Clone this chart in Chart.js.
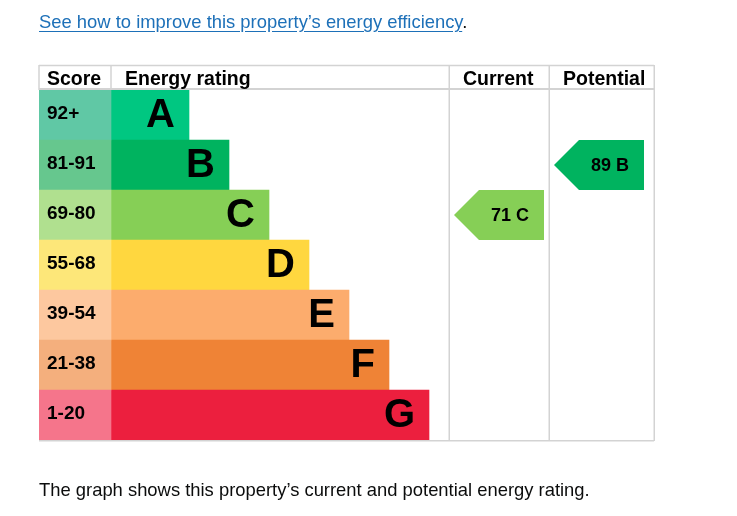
<!DOCTYPE html>
<html>
<head>
<meta charset="utf-8">
<script src="https://cdn.jsdelivr.net/npm/chart.js@4.4.1/dist/chart.umd.min.js"></script>
<style>
  html, body { margin: 0; padding: 0; background: #fff; }
  #wrap { position: relative; width: 737px; height: 516px; overflow: hidden; }
  #epc { position: absolute; left: 0; top: 0; }
  .txt { position: absolute; left: 39px; font-family: "Liberation Sans", Arial, sans-serif; font-size: 18.4px; color: #0b0c0c; white-space: nowrap; }
  #link { top: 11px; }
  #link a { color: #1d70b8; text-decoration: underline; text-underline-offset: 3px; }
  #note { top: 479px; }
</style>
</head>
<body>
<div id="wrap">
  <canvas id="epc" width="737" height="516"></canvas>
  <div class="txt" id="link"><a href="#">See how to improve this property’s energy efficiency</a>.</div>
  <div class="txt" id="note">The graph shows this property’s current and potential energy rating.</div>
</div>
<script>
// ---- data ----
const ratings    = ["A", "B", "C", "D", "E", "F", "G"];
const scoreBands = ["92+", "81-91", "69-80", "55-68", "39-54", "21-38", "1-20"];
const barLength  = [78, 118, 158, 198, 238, 278, 318];   // band bar length, chart units
const headers    = ["Score", "Energy rating", "Current", "Potential"];

const currentScore    = 71;
const currentRating   = "C";
const potentialScore  = 89;
const potentialRating = "B";

// ---- styles ----
const bandColors  = ["#00c781", "#00b35f", "#86cf56", "#ffd73f", "#fcac6d", "#ef8336", "#ec1f3e"];
const scoreColors = ["#60c8a5", "#66c78e", "#b0e08f", "#fde779", "#fdc89f", "#f4af7d", "#f5758b"];
const lineColor   = "#d3d3d3";

// column edges on the x axis (chart units)
const scoreColEnd  = 72;
const currentCol   = [410, 510];
const potentialCol = [510, 615];
const headerHeight = 25;
const tipWidth     = 25;
const arrowLen     = 90;

function arrowData(rating, col) {
  return ratings.map(r => r === rating ? [col[0] + 5, col[0] + 5 + arrowLen] : null);
}

/** Draw table frame, header, labels and arrows */
const epcPlugin = {
  id: "epc",
  afterDatasetsDraw(chart) {
    const { ctx, chartArea: a, scales: { x } } = chart;
    const top = a.top - headerHeight;

    ctx.save();
    // frame
    ctx.strokeStyle = lineColor;
    ctx.lineWidth = 1.5;
    const vline = (v, y0) => {
      const px = Math.round(x.getPixelForValue(v)) + 0.25;
      ctx.beginPath(); ctx.moveTo(px, y0); ctx.lineTo(px, a.bottom + 1); ctx.stroke();
    };
    [currentCol[0], potentialCol[0], potentialCol[1]].forEach(v => vline(v, top));
    ctx.beginPath(); ctx.moveTo(a.left, top); ctx.lineTo(a.left, a.top); ctx.stroke();
    const sx = x.getPixelForValue(scoreColEnd);
    ctx.beginPath(); ctx.moveTo(sx, top); ctx.lineTo(sx, a.top); ctx.stroke();
    ctx.beginPath(); ctx.moveTo(a.left, top + 0.5); ctx.lineTo(a.right, top + 0.5); ctx.stroke();
    ctx.beginPath(); ctx.moveTo(a.left, a.bottom + 0.75); ctx.lineTo(a.right, a.bottom + 0.75); ctx.stroke();
    ctx.lineWidth = 2;
    ctx.beginPath(); ctx.moveTo(a.left, a.top - 1); ctx.lineTo(a.right, a.top - 1); ctx.stroke();

    // header
    ctx.fillStyle = "#000";
    ctx.font = "bold 19.5px 'Liberation Sans', Arial, sans-serif";
    ctx.textBaseline = "alphabetic";
    ctx.textAlign = "left";
    const hx = [0, scoreColEnd, currentCol[0], potentialCol[0]];
    const hpad = [8, 14, 14, 14];
    headers.forEach((h, i) => ctx.fillText(h, x.getPixelForValue(hx[i]) + hpad[i], a.top - 5.5));

    // score bands
    const scoreMeta = chart.getDatasetMeta(0);
    ctx.font = "bold 19px 'Liberation Sans', Arial, sans-serif";
    ctx.textBaseline = "middle";
    scoreMeta.data.forEach((el, i) => ctx.fillText(scoreBands[i], a.left + 8, el.y - 1));

    // rating letters
    const barMeta = chart.getDatasetMeta(1);
    ctx.font = "bold 40px 'Liberation Sans', Arial, sans-serif";
    ctx.textAlign = "right";
    barMeta.data.forEach((el, i) => ctx.fillText(ratings[i], el.x - 14, el.y + 1));

    // arrows
    const arrows = [
      { ds: 2, score: currentScore, rating: currentRating, color: bandColors[ratings.indexOf(currentRating)] },
      { ds: 3, score: potentialScore, rating: potentialRating, color: bandColors[ratings.indexOf(potentialRating)] },
    ];
    arrows.forEach(ar => {
      const meta = chart.getDatasetMeta(ar.ds);
      const data = chart.data.datasets[ar.ds].data;
      meta.data.forEach((el, i) => {
        if (!data[i]) return;
        const l = el.base, r = el.x, t = el.y - el.height / 2, b = el.y + el.height / 2;
        ctx.fillStyle = ar.color;
        ctx.beginPath();
        ctx.moveTo(l, el.y);
        ctx.lineTo(l + tipWidth, t);
        ctx.lineTo(r, t);
        ctx.lineTo(r, b);
        ctx.lineTo(l + tipWidth, b);
        ctx.closePath();
        ctx.fill();
        ctx.fillStyle = "#000";
        ctx.font = "bold 18px 'Liberation Sans', Arial, sans-serif";
        ctx.textAlign = "right";
        ctx.fillText(ar.score + " " + ar.rating, r - 15, el.y + 1);
      });
    });
    ctx.restore();
  }
};

new Chart(document.getElementById("epc"), {
  type: "bar",
  data: {
    labels: ratings,
    datasets: [
      { label: "Score", data: ratings.map(() => [0, scoreColEnd]), backgroundColor: scoreColors },
      { label: "Energy rating", data: barLength.map(v => [scoreColEnd, scoreColEnd + v]), backgroundColor: bandColors },
      { label: "Current", data: arrowData(currentRating, currentCol), backgroundColor: "rgba(0,0,0,0)" },
      { label: "Potential", data: arrowData(potentialRating, potentialCol), backgroundColor: "rgba(0,0,0,0)" },
    ],
  },
  options: {
    indexAxis: "y",
    responsive: false,
    animation: false,
    devicePixelRatio: 1,
    layout: { padding: { left: 39, right: 83, top: 90, bottom: 76 } },
    datasets: {
      bar: { grouped: false, barPercentage: 1, categoryPercentage: 1, borderWidth: 0, borderSkipped: false },
    },
    scales: {
      x: { type: "linear", min: 0, max: 615, display: false },
      y: { display: false },
    },
    plugins: { legend: { display: false }, tooltip: { enabled: false } },
  },
  plugins: [epcPlugin],
});
</script>
</body>
</html>
